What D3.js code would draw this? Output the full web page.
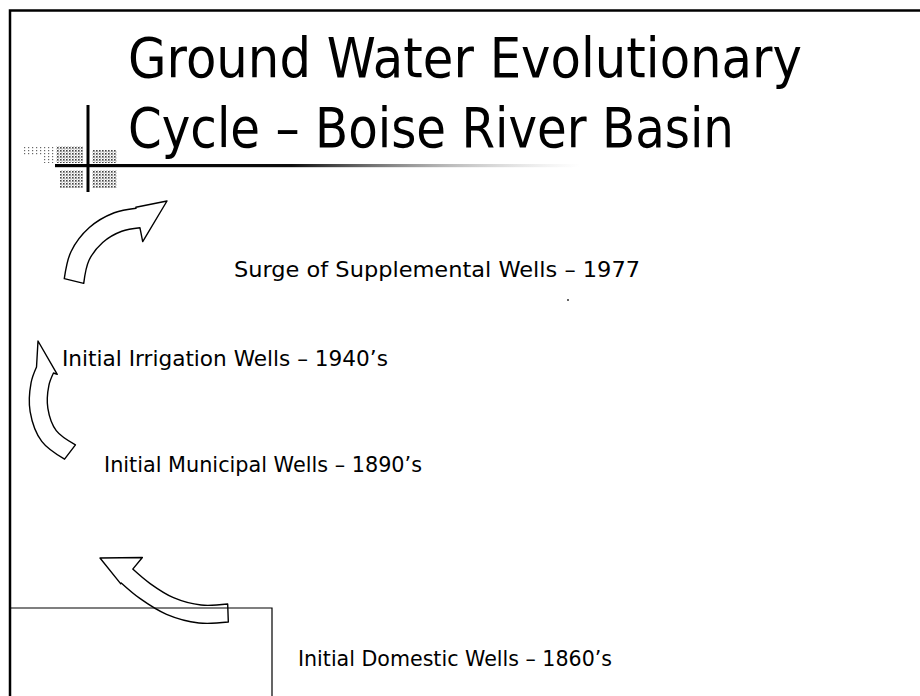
<!DOCTYPE html>
<html>
<head>
<meta charset="utf-8">
<script src="https://cdn.jsdelivr.net/npm/d3@7"></script>
<style>
  html, body { margin: 0; padding: 0; background: #fff; }
  svg { display: block; }
  text { font-family: "DejaVu Sans", Verdana, sans-serif; fill: #000; }
</style>
</head>
<body>
<svg id="chart" width="920" height="696"></svg>
<script>
// ---- content ----
const titleLines = ['Ground Water Evolutionary', 'Cycle \u2013 Boise River Basin'];
const stageLabels = [
    'Surge of Supplemental Wells \u2013 1977',
    'Initial Irrigation Wells \u2013 1940\u2019s',
    'Initial Municipal Wells \u2013 1890\u2019s',
    'Initial Domestic Wells \u2013 1860\u2019s'
];

// ---- layout (slide coordinates) ----
const titleX = 128;
const titleBaselines = [77, 147];
const titleWidths = [674, 606];
const stageX = [234, 62, 104, 298];
const stageBaselines = [277, 366, 472, 666];
const stageWidths = [406, 326, 318, 314];

// curved block arrows: spine runs tail -> head base, tip is the point
const arrows = [
    { spine: [[74, 281], [80, 256], [96, 235], [118, 222], [138, 218]], tip: [167, 201], body: 20, headIn: 24, headOut: 11 },
    { spine: [[70, 452], [49, 436], [39, 410], [40, 384], [45, 370]], tip: [38, 341], body: 18, headIn: 13, headOut: 9 },
    { spine: [[228, 613], [200, 614], [170, 606], [145, 591], [127, 576]], tip: [100, 558], body: 18, headIn: 24, headOut: 10 }
];

const svg = d3.select('#chart');
const defs = svg.append('defs');

// halftone texture for the corner ornament
const dots = defs.append('pattern')
    .attr('id', 'dots')
    .attr('width', 3).attr('height', 3)
    .attr('patternUnits', 'userSpaceOnUse');
dots.append('rect').attr('width', 3).attr('height', 3).attr('fill', '#fff');
dots.append('rect').attr('width', 1.6).attr('height', 1.6).attr('fill', '#444');
dots.append('rect').attr('x', 1.5).attr('y', 1.5).attr('width', 1).attr('height', 1).attr('fill', '#777');

const sparse = defs.append('pattern')
    .attr('id', 'sparse')
    .attr('width', 4).attr('height', 3)
    .attr('patternUnits', 'userSpaceOnUse');
sparse.append('rect').attr('width', 4).attr('height', 3).attr('fill', '#fff');
sparse.append('rect').attr('width', 1.2).attr('height', 1.2).attr('fill', '#666');

const fade = defs.append('linearGradient')
    .attr('id', 'ruleFade')
    .attr('gradientUnits', 'userSpaceOnUse')
    .attr('x1', 55).attr('x2', 580).attr('y1', 0).attr('y2', 0);
fade.append('stop').attr('offset', '0').attr('stop-color', '#000').attr('stop-opacity', 1);
fade.append('stop').attr('offset', '0.45').attr('stop-color', '#000').attr('stop-opacity', 0.95);
fade.append('stop').attr('offset', '0.75').attr('stop-color', '#555').attr('stop-opacity', 0.4);
fade.append('stop').attr('offset', '1').attr('stop-color', '#999').attr('stop-opacity', 0);

// slide frame (top and left edges)
svg.append('path')
    .attr('d', 'M10,696 V10.5 H920')
    .attr('fill', 'none')
    .attr('stroke', '#000')
    .attr('stroke-width', 2.5);

// corner ornament
const orn = svg.append('g').attr('class', 'ornament');
orn.append('rect').attr('x', 22).attr('y', 147).attr('width', 32).attr('height', 8).attr('fill', 'url(#sparse)');
orn.append('rect').attr('x', 44).attr('y', 150).attr('width', 13).attr('height', 13).attr('fill', 'url(#sparse)');
orn.append('rect').attr('x', 56).attr('y', 146).attr('width', 27).attr('height', 17).attr('fill', 'url(#dots)');
orn.append('rect').attr('x', 92).attr('y', 150).attr('width', 25).attr('height', 13).attr('fill', 'url(#dots)');
orn.append('rect').attr('x', 60).attr('y', 170).attr('width', 23).attr('height', 18).attr('fill', 'url(#dots)');
orn.append('rect').attr('x', 92).attr('y', 170).attr('width', 25).attr('height', 18).attr('fill', 'url(#dots)');
orn.append('rect').attr('x', 55).attr('y', 164).attr('width', 525).attr('height', 3.2).attr('fill', 'url(#ruleFade)');
orn.append('line')
    .attr('x1', 88).attr('x2', 88)
    .attr('y1', 105).attr('y2', 192)
    .attr('stroke', '#000')
    .attr('stroke-width', 3);

// title
svg.append('g').selectAll('text')
    .data(titleLines)
    .join('text')
    .attr('x', titleX)
    .attr('y', (d, i) => titleBaselines[i])
    .attr('font-size', 55)
    .attr('textLength', (d, i) => titleWidths[i])
    .attr('lengthAdjust', 'spacingAndGlyphs')
    .text(d => d);

// stage labels
svg.append('g').selectAll('text')
    .data(stageLabels)
    .join('text')
    .attr('x', (d, i) => stageX[i])
    .attr('y', (d, i) => stageBaselines[i])
    .attr('font-size', 22)
    .attr('textLength', (d, i) => stageWidths[i])
    .attr('lengthAdjust', 'spacingAndGlyphs')
    .text(d => d);

// curved arrows
function arrowOutline(a) {
    let pts = a.spine, n = pts.length;
    let normals = pts.map((p, i) => {
        let q0 = pts[Math.max(0, i - 1)], q1 = pts[Math.min(n - 1, i + 1)];
        let dx = q1[0] - q0[0], dy = q1[1] - q0[1], len = Math.hypot(dx, dy);
        return [-dy / len, dx / len];
    });
    let half = a.body / 2;
    let inner = pts.map((p, i) => [p[0] + normals[i][0] * half, p[1] + normals[i][1] * half]);
    let outer = pts.map((p, i) => [p[0] - normals[i][0] * half, p[1] - normals[i][1] * half]);
    let end = pts[n - 1], nn = normals[n - 1];
    let innerBarb = [end[0] + nn[0] * a.headIn, end[1] + nn[1] * a.headIn];
    let outerBarb = [end[0] - nn[0] * a.headOut, end[1] - nn[1] * a.headOut];
    let smooth = d3.line().curve(d3.curveCatmullRom);
    return smooth(outer)
        + 'L' + outerBarb.join(',')
        + 'L' + a.tip.join(',')
        + 'L' + innerBarb.join(',')
        + smooth(inner.slice().reverse()).replace(/^M/, 'L')
        + 'Z';
}

svg.append('g').selectAll('path')
    .data(arrows)
    .join('path')
    .attr('d', arrowOutline)
    .attr('fill', '#fff')
    .attr('stroke', '#000')
    .attr('stroke-width', 1.4)
    .attr('stroke-linejoin', 'round');

// placeholder box at lower left
svg.append('path')
    .attr('d', 'M10,608 H272 V696')
    .attr('fill', 'none')
    .attr('stroke', '#000')
    .attr('stroke-width', 1.2);

// stray speck on the slide
svg.append('circle').attr('cx', 568).attr('cy', 300).attr('r', 1).attr('fill', '#333');
</script>
</body>
</html>
